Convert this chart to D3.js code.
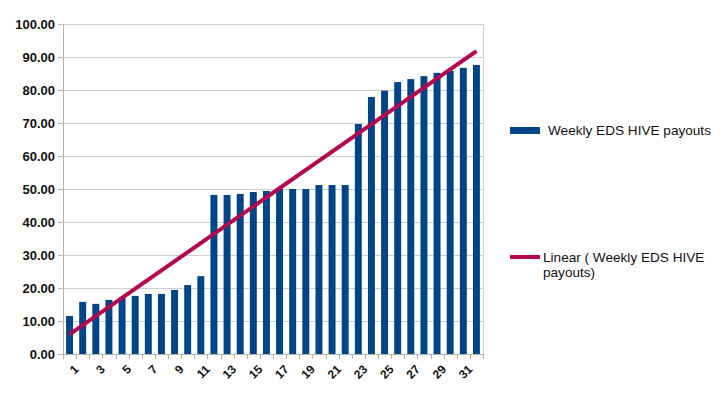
<!DOCTYPE html>
<html>
<head>
<meta charset="utf-8">
<script src="https://cdn.jsdelivr.net/npm/d3@7"></script>
<style>
  body { margin: 0; background: #fff; }
  text { font-family: "Liberation Sans", Arial, sans-serif; fill: #111; }
</style>
</head>
<body>
<script>
var weeks = d3.range(1, 33)
var payouts = [11.5, 15.8, 15.2, 16.4, 17.0, 17.6, 18.2, 18.2, 19.4, 20.9, 23.6,
  48.2, 48.2, 48.5, 49.1, 49.4, 50.0, 50.0, 50.0, 51.2, 51.2, 51.2,
  69.7, 77.9, 79.8, 82.4, 83.3, 84.2, 85.2, 85.8, 86.7, 87.6]
var yTicks = [0, 10, 20, 30, 40, 50, 60, 70, 80, 90, 100]
var seriesName = 'Weekly EDS HIVE payouts'
var trendName = ['Linear ( Weekly EDS HIVE', 'payouts)']

var margin = { top: 24, right: 243, bottom: 42, left: 63 }
var width = 726 - margin.left - margin.right
var height = 396 - margin.top - margin.bottom

var svg = d3.select('body').append('svg')
  .attr('width', 726)
  .attr('height', 396)

var g = svg.append('g')
  .attr('transform', 'translate(' + margin.left + ',' + margin.top + ')')

var x = d3.scaleBand().domain(weeks).range([0, width]).paddingInner(0.47).paddingOuter(0.235)
var xb = d3.scaleBand().domain(weeks).range([0, width])
var y = d3.scaleLinear().domain([0, 100]).range([height, 0])

// grid
g.append('g')
  .selectAll('line')
  .data(yTicks)
  .enter().append('line')
  .attr('x1', 0).attr('x2', width)
  .attr('y1', function (d) { return Math.round(y(d)) + 0.5 })
  .attr('y2', function (d) { return Math.round(y(d)) + 0.5 })
  .attr('stroke', '#cfcfcf')

// right border
g.append('line')
  .attr('x1', width + 0.5).attr('x2', width + 0.5)
  .attr('y1', 0).attr('y2', height)
  .attr('stroke', '#cfcfcf')

// y axis
var yAxis = g.append('g')
  .call(d3.axisLeft(y).tickValues(yTicks).tickSize(5).tickPadding(3)
    .tickFormat(function (d) { return d.toFixed(2) }))
yAxis.select('.domain').attr('stroke', '#b3b3b3')
yAxis.selectAll('.tick line').attr('stroke', '#b3b3b3')
yAxis.selectAll('text')
  .attr('font-size', 13).attr('font-weight', 'bold')
  .attr('font-family', '"Liberation Sans", Arial, sans-serif').attr('fill', '#111')

// bars
g.append('g')
  .selectAll('rect')
  .data(payouts)
  .enter().append('rect')
  .attr('x', function (d, i) { return x(weeks[i]) })
  .attr('width', x.bandwidth())
  .attr('y', function (d) { return y(d) })
  .attr('height', function (d) { return height - y(d) })
  .attr('fill', '#004586')

// x axis
var xAxisG = g.append('g')
  .attr('transform', 'translate(0,' + height + ')')
xAxisG.append('line')
  .attr('x1', 0).attr('x2', width).attr('y1', 0.5).attr('y2', 0.5)
  .attr('stroke', '#b3b3b3')
xAxisG.selectAll('.tk')
  .data(weeks.concat([33]))
  .enter().append('line')
  .attr('class', 'tk')
  .attr('x1', function (d) { return Math.round(xb.step() * (d - 1)) + 0.5 })
  .attr('x2', function (d) { return Math.round(xb.step() * (d - 1)) + 0.5 })
  .attr('y1', 0).attr('y2', 5)
  .attr('stroke', '#b3b3b3')
xAxisG.selectAll('.lbl')
  .data(weeks.filter(function (d) { return d % 2 === 1 }))
  .enter().append('text')
  .attr('class', 'lbl')
  .attr('text-anchor', 'end')
  .attr('font-size', 12)
  .attr('font-weight', 'bold')
  .attr('transform', function (d) {
    return 'translate(' + (xb(d) + xb.bandwidth() / 2 + 4) + ',10) rotate(-45)'
  })
  .attr('dy', '0.7em')
  .text(function (d) { return d })

// linear trend (least squares on the bar values)
var mx = d3.mean(weeks)
var my = d3.mean(payouts)
var sxy = d3.sum(weeks, function (w, i) { return (w - mx) * (payouts[i] - my) })
var sxx = d3.sum(weeks, function (w) { return (w - mx) * (w - mx) })
var slope = sxy / sxx
var icpt = my - slope * mx
var ends = [weeks[0], weeks[weeks.length - 1]]
g.append('path')
  .datum(ends)
  .attr('fill', 'none')
  .attr('stroke', '#b3094f')
  .attr('stroke-width', 4)
  .attr('d', d3.line()
    .x(function (d) { return xb(d) + xb.bandwidth() / 2 })
    .y(function (d) { return y(icpt + slope * d) }))

// legend
var lg = svg.append('g')
lg.append('rect').attr('x', 510).attr('y', 127).attr('width', 30).attr('height', 7).attr('fill', '#004586')
lg.append('text').attr('x', 548).attr('y', 135).attr('font-size', 13.6).text(seriesName)
lg.append('rect').attr('x', 510).attr('y', 255).attr('width', 30).attr('height', 4).attr('fill', '#b3094f')
lg.selectAll('.tl')
  .data(trendName)
  .enter().append('text')
  .attr('class', 'tl')
  .attr('x', 543)
  .attr('y', function (d, i) { return 262 + i * 15 })
  .attr('font-size', 13.6)
  .text(function (d) { return d })
</script>
</body>
</html>
